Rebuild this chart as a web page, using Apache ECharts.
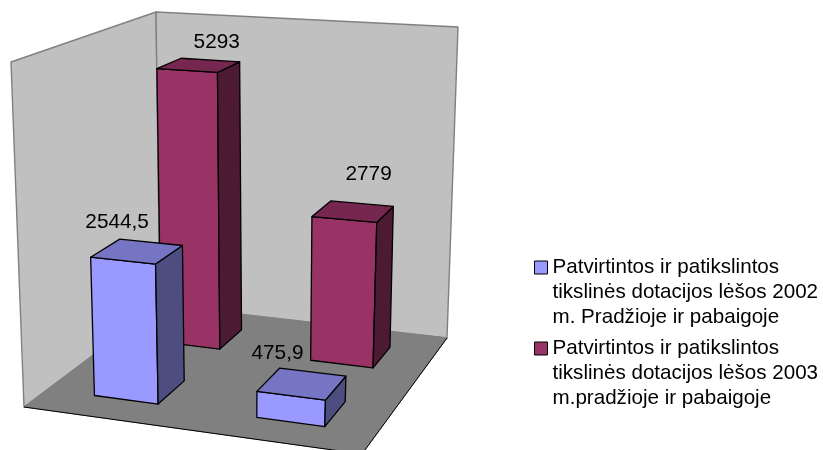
<!DOCTYPE html>
<html>
<head>
    <meta charset="utf-8">
    <title>Tikslinės dotacijos</title>
    <style>
        html, body { margin: 0; padding: 0; background: #fff; }
    </style>
    <script src="https://cdn.jsdelivr.net/npm/echarts@6/dist/echarts.min.js"></script>
</head>
<body>

<div id="chart" style="width: 823px; height: 450px;"></div>

<script>
    var categories = ['Pradžioje', 'Pabaigoje'];
    var values2002 = [2544.5, 475.9];
    var values2003 = [5293, 2779];
    var name2002 = 'Patvirtintos ir patikslintos\ntikslinės dotacijos lėšos 2002\nm. Pradžioje ir pabaigoje';
    var name2003 = 'Patvirtintos ir patikslintos\ntikslinės dotacijos lėšos 2003\nm.pradžioje ir pabaigoje';

    // corners of the 3d box on screen: front-left, front-right, back-right, back-left
    var floorQuad = [[24, 407], [362, 454], [447, 338], [160, 305]];
    var ceilQuad = [[11, 62], [378, 88], [458, 27], [156, 12]];

    // unit square -> quad
    function squareToQuad(q) {
        var dx1 = q[1][0] - q[2][0], dx2 = q[3][0] - q[2][0], sx = q[0][0] - q[1][0] + q[2][0] - q[3][0];
        var dy1 = q[1][1] - q[2][1], dy2 = q[3][1] - q[2][1], sy = q[0][1] - q[1][1] + q[2][1] - q[3][1];
        var den = dx1 * dy2 - dx2 * dy1;
        var g = (sx * dy2 - dx2 * sy) / den;
        var h = (dx1 * sy - sx * dy1) / den;
        return function (u, v) {
            var w = g * u + h * v + 1;
            return [
                ((q[1][0] - q[0][0] + g * q[1][0]) * u + (q[3][0] - q[0][0] + h * q[3][0]) * v + q[0][0]) / w,
                ((q[1][1] - q[0][1] + g * q[1][1]) * u + (q[3][1] - q[0][1] + h * q[3][1]) * v + q[0][1]) / w
            ];
        };
    }
    var floorAt = squareToQuad(floorQuad);
    var ceilAt = squareToQuad(ceilQuad);

    // u: along categories, v: depth, h: height, all 0..1
    function project(u, v, h) {
        var a = floorAt(u, v), b = ceilAt(u, v);
        var t = h / (1 + 0.07 * (1 - h)); // heights foreshorten towards the floor
        return [a[0] + (b[0] - a[0]) * t, a[1] + (b[1] - a[1]) * t];
    }

    function poly(points, fill, stroke, width) {
        return {
            type: 'polygon',
            shape: {points: points},
            style: {fill: fill, stroke: stroke, lineWidth: width, lineJoin: 'round'}
        };
    }

    function renderBox() {
        var a = project(0, 0, 0), b = project(1, 0, 0), c = project(1, 1, 0), d = project(0, 1, 0);
        var e = project(0, 0, 1), g = project(1, 1, 1), h = project(0, 1, 1);
        return {
            type: 'group',
            children: [
                poly([a, e, h, d], '#C0C0C0', '#808080', 1.4),
                poly([d, h, g, c], '#C0C0C0', '#808080', 1.4),
                poly([a, b, c, d], '#808080', '#808080', 1),
                {type: 'polyline', shape: {points: [a, b, c]}, style: {fill: null, stroke: '#000', lineWidth: 1}}
            ]
        };
    }

    function barRenderer(depth, colors, labelOffsets) {
        return function (params, api) {
            var i = api.value(0), val = api.value(1);
            var cs = params.coordSys;
            var base = api.coord([i, 0]), top = api.coord([i, val]);
            var band = api.size([1, 0])[0] / cs.width;
            var half = band * 0.2;
            var u = (base[0] - cs.x) / cs.width;
            var h = (base[1] - top[1]) / cs.height;
            var u0 = u - half, u1 = u + half, v0 = depth - half, v1 = depth + half;
            var topCenter = project(u, depth, h);
            var off = labelOffsets[i];
            return {
                type: 'group',
                children: [
                    poly([project(u0, v0, 0), project(u1, v0, 0), project(u1, v0, h), project(u0, v0, h)], colors[0], '#000', 1.3),
                    poly([project(u1, v0, 0), project(u1, v1, 0), project(u1, v1, h), project(u1, v0, h)], colors[1], '#000', 1.3),
                    poly([project(u0, v0, h), project(u1, v0, h), project(u1, v1, h), project(u0, v1, h)], colors[2], '#000', 1.3),
                    {
                        type: 'text',
                        style: {
                            x: topCenter[0] + off[0],
                            y: topCenter[1] + off[1],
                            text: String(val).replace('.', ','),
                            font: '20.8px "Liberation Sans", Arial, sans-serif',
                            fill: '#000',
                            align: 'center',
                            verticalAlign: 'middle'
                        }
                    }
                ]
            };
        };
    }

    function toData(list) {
        return list.map(function (val, i) {
            return [i, val];
        });
    }

    // two blank lines in front so the icon sits level with the first text line
    function legendFor(name, top) {
        return {
            orient: 'vertical',
            left: 534,
            top: top,
            padding: 0,
            icon: 'rect',
            itemWidth: 13,
            itemHeight: 13,
            itemStyle: {borderColor: '#000', borderWidth: 1},
            textStyle: {
                fontFamily: '"Liberation Sans", Arial, sans-serif',
                fontSize: 20.6,
                lineHeight: 25,
                color: '#000'
            },
            formatter: function (n) {
                return '\n\n' + n;
            },
            data: [name]
        };
    }

    var chart = echarts.init(document.getElementById('chart'));
    chart.setOption({
        animation: false,
        backgroundColor: '#fff',
        grid: {left: 0, right: 0, top: 0, bottom: 0},
        xAxis: {type: 'category', data: categories, show: false},
        yAxis: {type: 'value', min: 0, max: 6000, show: false},
        legend: [legendFor(name2002, 205), legendFor(name2003, 286)],
        series: [
            {
                type: 'custom',
                silent: true,
                renderItem: renderBox,
                data: [[0, 0]],
                encode: {x: 0, y: 1}
            },
            {
                type: 'custom',
                name: name2003,
                itemStyle: {color: '#993366'},
                renderItem: barRenderer(0.75, ['#993366', '#4D1A33', '#752750'], [[18, -23], [15.5, -37]]),
                data: toData(values2003),
                encode: {x: 0, y: 1}
            },
            {
                type: 'custom',
                name: name2002,
                itemStyle: {color: '#9999FF'},
                renderItem: barRenderer(0.25, ['#9999FF', '#4D4D80', '#7575C3'], [[-20, -29], [-24.5, -30]]),
                data: toData(values2002),
                encode: {x: 0, y: 1}
            }
        ]
    });
</script>

</body>
</html>
